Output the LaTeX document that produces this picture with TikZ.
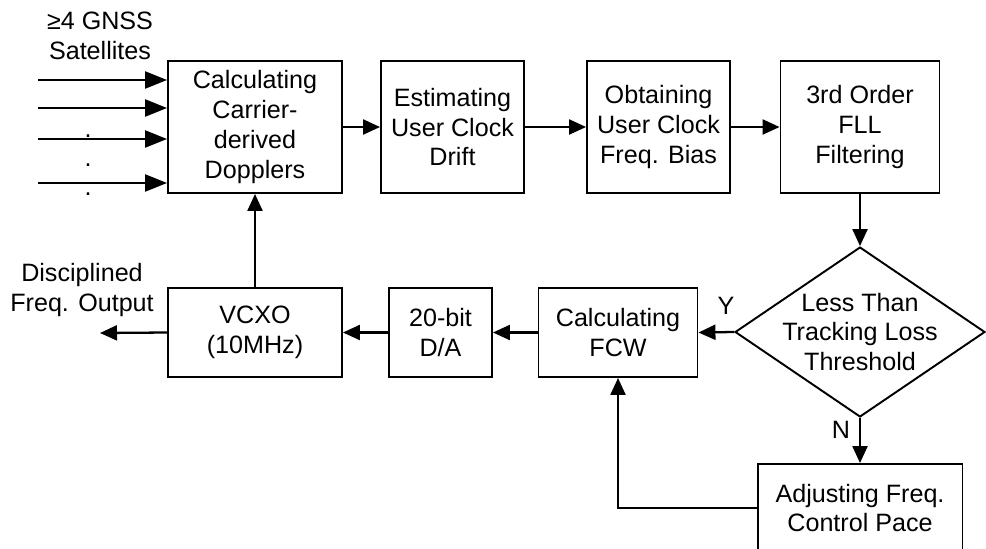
\documentclass[tikz,border=0pt]{standalone}
\usepackage{fontspec}
\setmainfont{Liberation Sans}
\usetikzlibrary{positioning, arrows.meta, shapes.geometric}

\begin{document}
\begin{tikzpicture}[
    x=0.02cm, y=-0.02cm,
    box/.style={
        rectangle,
        draw=black,
        line width=1.1pt,
        minimum height=2.64cm,
        align=center,
        font=\fontsize{14.3}{17}\selectfont,
        inner sep=2pt
    },
    lowbox/.style={
        box,
        minimum height=1.78cm
    },
    txt/.style={
        align=center,
        font=\fontsize{14.3}{17}\selectfont,
        inner sep=0pt
    },
    arr/.style={
        line width=1.3pt,
        -{Triangle[length=3.4mm,width=3mm]}
    },
    inarr/.style={
        arr,
        -{Triangle[length=4.4mm,width=3.4mm]}
    }
]

\useasboundingbox (0,0) rectangle (986,548);

\node[box, minimum width=3.48cm] (dop) at (255,127) {Calculating\\Carrier-\\derived\\Dopplers};
\node[box, minimum width=2.86cm] (drift) at (452.5,127) {Estimating\\User Clock\\Drift};
\node[box, minimum width=2.86cm] (bias) at (658.5,127) {Obtaining\\User Clock\\Freq. Bias};
\node[box, minimum width=3.18cm] (fll) at (860,127) {3rd Order\\FLL\\Filtering};

\node[diamond, draw=black, line width=1.1pt, minimum width=5cm, minimum height=3.4cm, inner sep=0pt] (dec) at (860,332) {};
\node[txt] (dectxt) at (dec.center) {Less Than\\Tracking Loss\\Threshold};

\node[lowbox, minimum width=3.18cm] (fcw) at (618,332.5) {Calculating\\FCW};
\node[lowbox, minimum width=2.06cm] (da) at (440.5,332.5) {20-bit\\D/A};
\node[lowbox, minimum width=3.48cm] (vcxo) at (255,332.5) {VCXO\\(10MHz)};
\node[box, minimum width=4.1cm, minimum height=1.76cm] (adj) at (860,508) {Adjusting Freq.\\Control Pace};

\node[txt] (sats) at (100,36) {≥4 GNSS\\Satellites};
\node[txt] (outlbl) at (82,290) {Disciplined\\Freq. Output};
\node[txt] (ylbl) at (726,306) {Y};
\node[txt] (nlbl) at (841,430) {N};

\node[txt, anchor=base] (dot1) at (88,137) {.};
\node[txt, anchor=base] (dot2) at (88,166) {.};
\node[txt, anchor=base] (dot3) at (88,195) {.};

\coordinate (s1) at (38,80);
\coordinate (s2) at (38,108);
\coordinate (s3) at (38,139);
\coordinate (s4) at (38,183);
\coordinate (out) at (100,333);

\draw[inarr] (s1) -- (s1 -| dop.west);
\draw[inarr] (s2) -- (s2 -| dop.west);
\draw[inarr] (s3) -- (s3 -| dop.west);
\draw[inarr] (s4) -- (s4 -| dop.west);

\draw[arr] (dop) -- (drift);
\draw[arr] (drift) -- (bias);
\draw[arr] (bias) -- (fll);
\draw[arr] (fll) -- (dec);
\draw[arr] (dec.west) -- (fcw.east);
\draw[arr] (dec.south) -- (adj.north);
\draw[arr] (adj.west) -| (fcw.south);
\draw[arr] (fcw) -- (da);
\draw[arr] (da) -- (vcxo);
\draw[arr] (vcxo.west) -- (out);
\draw[arr] (vcxo) -- (dop);

\end{tikzpicture}
\end{document}
